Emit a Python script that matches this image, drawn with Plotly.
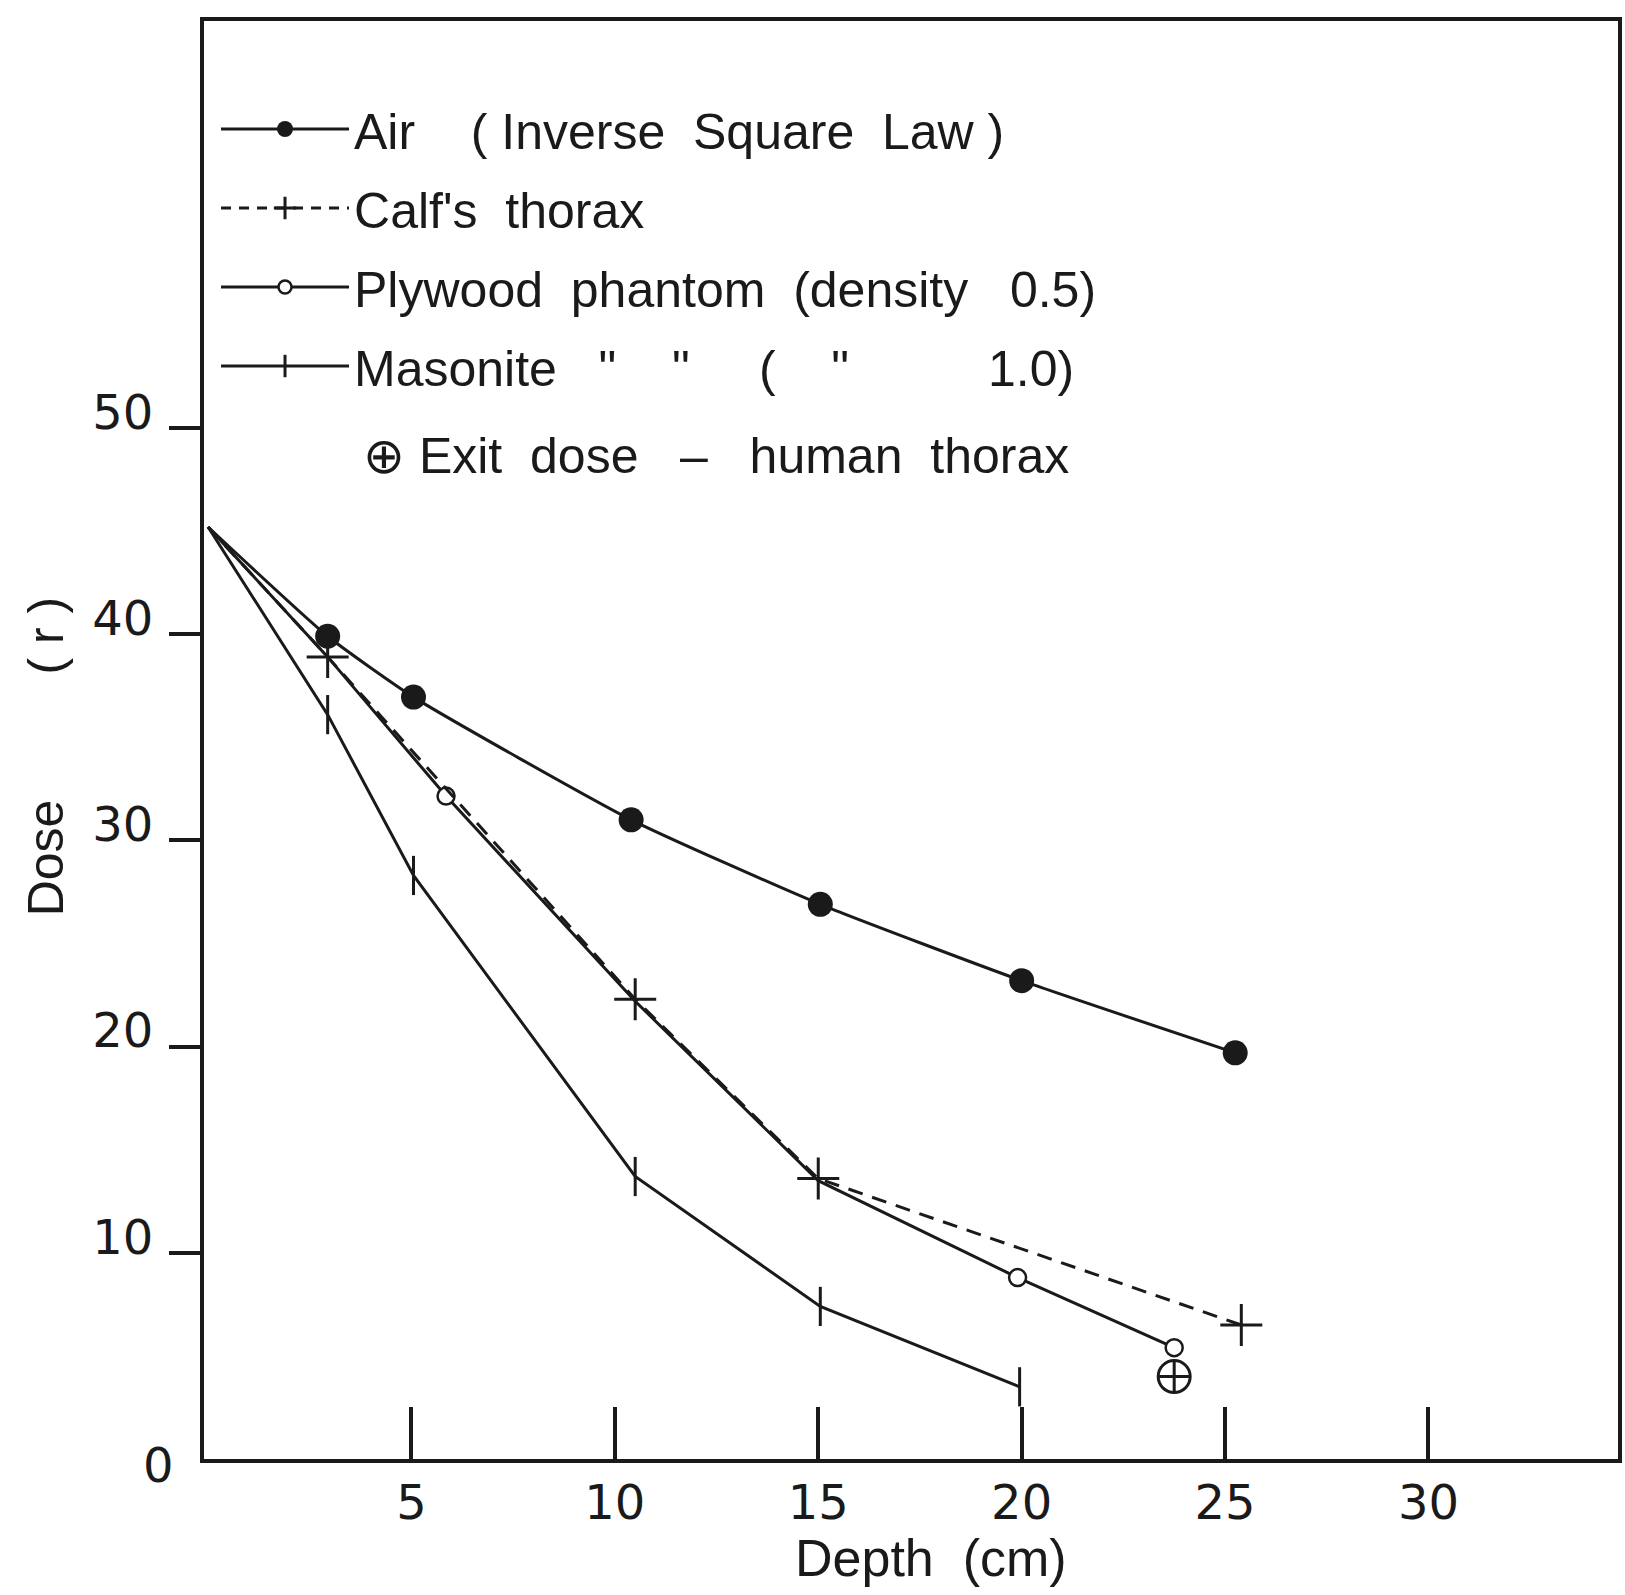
import plotly.graph_objects as go

# ---------------- data ----------------
air_depth = [0, 2.94, 5.05, 10.4, 15.05, 20.0, 25.25]
air_dose = [45.2, 39.9, 36.95, 31.0, 26.9, 23.2, 19.7]
air_marked = [False, True, True, True, True, True, True]

calf_depth = [0, 2.94, 10.5, 15.0, 25.4]
calf_dose = [45.2, 38.9, 22.3, 13.6, 6.5]
calf_marked = [False, True, True, True, True]

plywood_depth = [0, 2.94, 5.85, 10.5, 15.0, 19.9, 23.75]
plywood_dose = [45.2, 38.9, 32.15, 22.2, 13.5, 8.8, 5.4]
plywood_marked = [False, False, True, False, False, True, True]

masonite_depth = [0, 2.94, 5.05, 10.5, 15.05, 19.95]
masonite_dose = [45.2, 36.1, 28.3, 13.7, 7.4, 3.5]
masonite_marked = [False, True, True, True, True, True]

exit_depth = [23.75]
exit_dose = [4.0]

x_ticks = [5, 10, 15, 20, 25, 30]
y_ticks = [10, 20, 30, 40, 50]

NB = "\u00a0"
legend_names = [
    "Air" + NB * 4 + "(" + NB + "Inverse" + NB * 2 + "Square" + NB * 2 + "Law" + NB + ")",
    "Calf's" + NB * 2 + "thorax",
    "Plywood" + NB * 2 + "phantom" + NB * 2 + "(density" + NB * 3 + "0.5)",
    "Masonite" + NB * 3 + "\"" + NB * 4 + "\"" + NB * 5 + "(" + NB * 4 + "\"" + NB * 10 + "1.0)",
]
exit_label = "\u2295" + NB + "Exit" + NB * 2 + "dose" + NB * 3 + "\u2013" + NB * 3 + "human" + NB * 2 + "thorax"
x_title = "Depth" + NB * 2 + "(cm)"
y_title = "Dose" + NB * 9 + "(" + NB + "r" + NB + ")"

INK = "#1a1a1a"
LEG_FONT = "Liberation Sans, Arial, sans-serif"
TICK_FONT = "DejaVu Sans, sans-serif"


def pick(xs, ys, flags):
    return [x for x, f in zip(xs, flags) if f], [y for y, f in zip(ys, flags) if f]


fig = go.Figure()

# Air
fig.add_trace(go.Scatter(x=air_depth, y=air_dose, mode="lines",
                         line=dict(color=INK, width=3, shape="spline", smoothing=0.5),
                         showlegend=False))
mx, my = pick(air_depth, air_dose, air_marked)
fig.add_trace(go.Scatter(x=mx, y=my, mode="markers",
                         marker=dict(symbol="circle", size=25, color=INK),
                         showlegend=False))

# Plywood (solid)
fig.add_trace(go.Scatter(x=plywood_depth, y=plywood_dose, mode="lines",
                         line=dict(color=INK, width=3), showlegend=False))
mx, my = pick(plywood_depth, plywood_dose, plywood_marked)
fig.add_trace(go.Scatter(x=mx, y=my, mode="markers",
                         marker=dict(symbol="circle", size=17, color="white",
                                     line=dict(color=INK, width=2.5)),
                         showlegend=False))

# Calf (dashed)
fig.add_trace(go.Scatter(x=calf_depth, y=calf_dose, mode="lines",
                         line=dict(color=INK, width=3, dash="15px,10px"), showlegend=False))
mx, my = pick(calf_depth, calf_dose, calf_marked)
fig.add_trace(go.Scatter(x=mx, y=my, mode="markers",
                         marker=dict(symbol="cross-thin", size=30, color=INK,
                                     line=dict(color=INK, width=3)),
                         showlegend=False))

# Masonite
fig.add_trace(go.Scatter(x=masonite_depth, y=masonite_dose, mode="lines",
                         line=dict(color=INK, width=3), showlegend=False))
mx, my = pick(masonite_depth, masonite_dose, masonite_marked)
fig.add_trace(go.Scatter(x=mx, y=my, mode="markers",
                         marker=dict(symbol="line-ns", size=28, color=INK,
                                     line=dict(color=INK, width=3)),
                         showlegend=False))

# Exit dose
fig.add_trace(go.Scatter(x=exit_depth, y=exit_dose, mode="markers",
                         marker=dict(symbol="circle-cross-open", size=32, color=INK,
                                     line=dict(color=INK, width=3)),
                         showlegend=False))

# Legend proxies
legend_styles = [
    dict(mode="lines+markers", line=dict(color=INK, width=3),
         marker=dict(symbol="circle", size=16, color=INK)),
    dict(mode="lines+markers", line=dict(color=INK, width=3, dash="10px,8px"),
         marker=dict(symbol="cross-thin", size=16, color=INK, line=dict(color=INK, width=3))),
    dict(mode="lines+markers", line=dict(color=INK, width=3),
         marker=dict(symbol="circle", size=13, color="white", line=dict(color=INK, width=2.5))),
    dict(mode="lines+markers", line=dict(color=INK, width=3),
         marker=dict(symbol="line-ns", size=16, color=INK, line=dict(color=INK, width=3))),
]
for i, (name, st) in enumerate(zip(legend_names, legend_styles)):
    fig.add_trace(go.Scatter(x=[None], y=[None], name=name, legendgroup=f"g{i}",
                             showlegend=True, **st))

fig.add_annotation(text=exit_label, xref="paper", yref="paper", x=0.111, y=0.6976,
                   xanchor="left", yanchor="middle", showarrow=False,
                   font=dict(family=LEG_FONT, size=50, color=INK))

fig.add_annotation(text="0", xref="paper", yref="y", x=0, y=0, xanchor="right",
                   yanchor="middle", xshift=-28, yshift=-6, showarrow=False,
                   font=dict(family=TICK_FONT, size=48, color=INK))

# axis titles
fig.add_annotation(text=x_title, xref="paper", yref="paper", x=0.514, y=-0.0685,
                   xanchor="center", yanchor="middle", showarrow=False,
                   font=dict(family=LEG_FONT, size=52, color=INK))
fig.add_annotation(text=y_title, xref="paper", yref="paper", x=-0.1117, y=0.488,
                   xanchor="center", yanchor="middle", textangle=-90, showarrow=False,
                   font=dict(family=LEG_FONT, size=50, color=INK))

fig.update_layout(
    width=1625, height=1595, autosize=False,
    margin=dict(l=204, r=3, t=21, b=136),
    paper_bgcolor="white", plot_bgcolor="white",
    showlegend=True,
    legend=dict(x=0.0085, y=0.952, xanchor="left", yanchor="top",
                bgcolor="rgba(0,0,0,0)", borderwidth=0,
                font=dict(family=LEG_FONT, size=50, color=INK),
                itemwidth=128, tracegroupgap=11, traceorder="grouped"),
    xaxis=dict(range=[-0.1, 34.66], tickvals=x_ticks, ticks="inside", ticklen=52,
               tickwidth=4, tickcolor=INK, showline=True, linewidth=4, linecolor=INK,
               mirror=True, showgrid=False, zeroline=False,
               tickfont=dict(family=TICK_FONT, size=48, color=INK),
               ticklabelstandoff=-2),
    yaxis=dict(range=[0, 69.74], tickvals=y_ticks, ticks="outside", ticklen=31,
               tickwidth=4, tickcolor=INK, showline=True, linewidth=4, linecolor=INK,
               mirror=True, showgrid=False, zeroline=False,
               tickfont=dict(family=TICK_FONT, size=48, color=INK),
               ticklabelshift=-16, ticklabelstandoff=6),
)

fig.write_html("out.html", config={"displayModeBar": False},
               post_script="document.body.style.margin='0';document.body.style.overflow='hidden';")
